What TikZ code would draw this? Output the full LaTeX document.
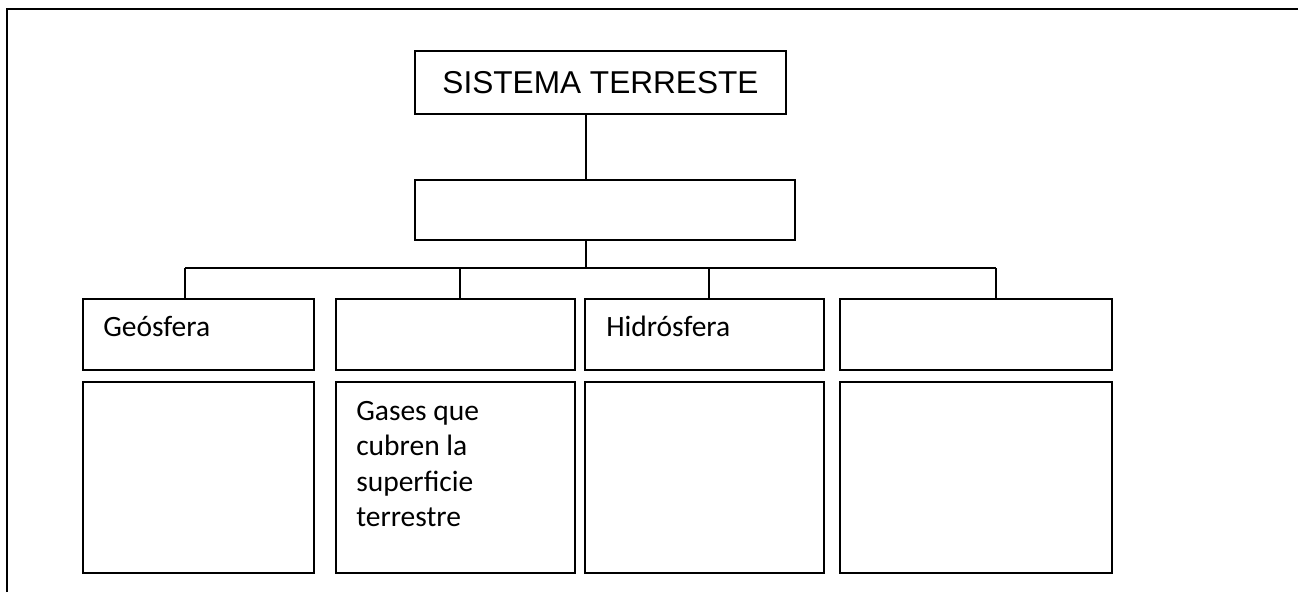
\documentclass[tikz,border=0pt]{standalone}
\usepackage{fontspec}
\setmainfont{Carlito}
\newfontfamily\arialfont{Liberation Sans}
\begin{document}
\begin{tikzpicture}[x=1pt, y=-1pt,
        box/.style={draw, line width=1.9pt, inner sep=0pt},
        conn/.style={line width=1.5pt},
        lbl/.style={font=\fontsize{29.5}{35.5}\selectfont, inner sep=0pt, anchor=base west}]
    % the page
    \useasboundingbox (0,0) rectangle (1298,592);
    % the frame round the chart (top and left side only)
    \draw[line width=2.2pt] (7,592) -- (7,9) -- (1298,9);

    % The title box
    \node[box, minimum width=371pt, minimum height=63pt,
        font=\arialfont\fontsize{31.6}{38}\selectfont] (sys) at (600.5,82.5) {SISTEMA TERRESTE};
    % The empty box below the title
    \node[box, minimum width=380pt, minimum height=60pt] (sub) at (605,210) {};

    % the four boxes of row 1 and row 2
    \foreach \name/\cx/\w in {geo/198.5/231, atm/455.5/239, hid/704.5/239, bio/976/272} {
        \node[box, minimum width=\w pt, minimum height=71pt] (\name) at (\cx,334.5) {};
        \node[box, minimum width=\w pt, minimum height=191pt] (\name-d) at (\cx,477.5) {};
    }

    % Line from the title down to the empty box
    \coordinate (hub) at (586,268);
    \draw[conn] (hub |- sys.south) -- (hub |- sub.north);
    \draw[conn] (hub |- sub.south) -- (hub);

    % the drops from the bar to row 1
    \foreach \name/\x in {geo/185, atm/460, hid/709, bio/996} {
        \coordinate (drop-\name) at (\x,268);
        \draw[conn] (drop-\name) -- (drop-\name |- \name.north);
    }
    % the bar
    \draw[conn] (drop-geo) -- (drop-bio);

    % The labels in the boxes
    \node[lbl] (geo-t) at ([shift={(21pt,-38pt)}]geo.north west) {Geósfera};
    \node[lbl] (hid-t) at ([shift={(22pt,-38pt)}]hid.north west) {Hidrósfera};
    % (base of this one is the last line)
    \node[lbl, align=left] (atm-t) at ([shift={(21pt,-145.5pt)}]atm-d.north west)
        {Gases que\\cubren la\\superficie\\terrestre};
\end{tikzpicture}
\end{document}
